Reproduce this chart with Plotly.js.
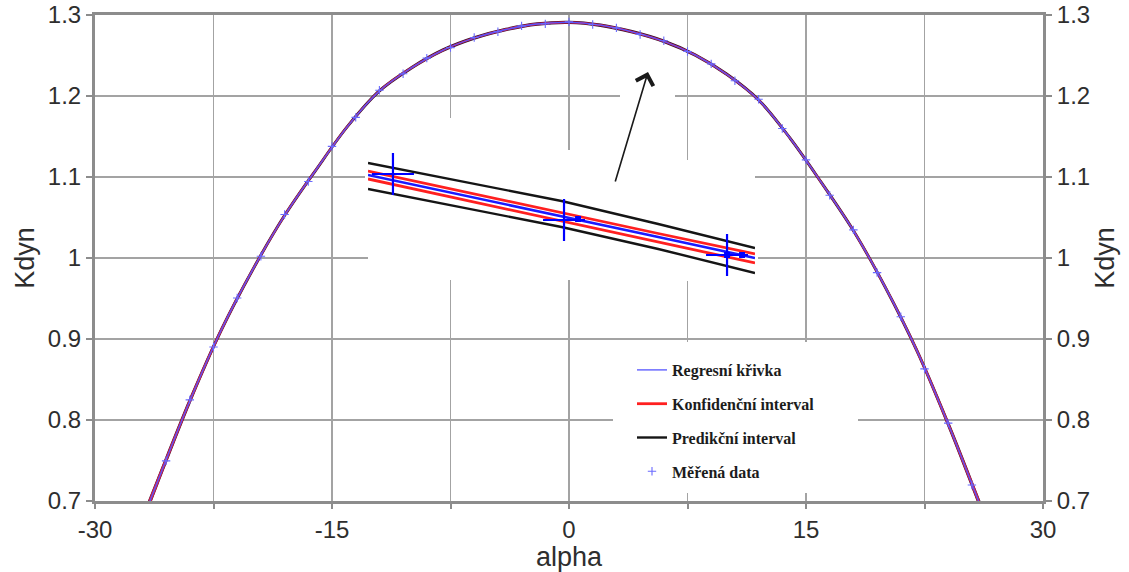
<!DOCTYPE html>
<html>
<head>
<meta charset="utf-8">
<script src="https://cdn.plot.ly/plotly-3.0.1.min.js"></script>
<style>
  html, body { margin: 0; padding: 0; background: #ffffff; }
  #chart { width: 1129px; height: 572px; }
</style>
</head>
<body>
<div id="chart"></div>
<script>
// ---------- main curve ----------
const regAlpha = [-26.8, -26, -24, -22, -20, -18, -16, -14, -12, -10, -8, -6, -4, -2, 0,
                  2, 4, 6, 8, 10, 12, 14, 16, 18, 20, 22, 24, 26, 26.5];
const regKdyn  = [0.686, 0.726, 0.8235, 0.9114, 0.9862, 1.0525, 1.1092, 1.1629, 1.2063, 1.2344,
                  1.2564, 1.2716, 1.2821, 1.2889, 1.2909, 1.2874, 1.2793, 1.2676, 1.2505, 1.2266,
                  1.1951, 1.1477, 1.0924, 1.0338, 0.9646, 0.8865, 0.7951, 0.696, 0.671];
const confHalf = [0.0032, 0.0027, 0.0019, 0.0014, 0.0010, 0.0008, 0.0007, 0.0006, 0.0005, 0.0005,
                  0.0005, 0.0005, 0.0005, 0.0005, 0.0005, 0.0005, 0.0005, 0.0005, 0.0005, 0.0005,
                  0.0005, 0.0006, 0.0007, 0.0008, 0.0010, 0.0014, 0.0019, 0.0027, 0.0032];
const predHalf = [0.0040, 0.0034, 0.0026, 0.0021, 0.0017, 0.0015, 0.0014, 0.0013, 0.0012, 0.0012,
                  0.0012, 0.0011, 0.0011, 0.0011, 0.0011, 0.0011, 0.0011, 0.0011, 0.0012, 0.0012,
                  0.0012, 0.0013, 0.0014, 0.0015, 0.0017, 0.0021, 0.0026, 0.0034, 0.0040];

const measAlpha = [-25.5, -24, -22.5, -21, -19.5, -18, -16.5, -15, -13.5, -12, -10.5, -9, -7.5, -6,
                   -4.5, -3, -1.5, 0, 1.5, 3, 4.5, 6, 7.5, 9, 10.5, 12, 13.5, 15, 16.5, 18, 19.5,
                   21, 22.5, 24, 25.5];
const measKdyn  = [0.7495, 0.8248, 0.8902, 0.9507, 1.0021, 1.0537, 1.0945, 1.1378, 1.1736, 1.2071,
                   1.2274, 1.2468, 1.2597, 1.2723, 1.2793, 1.2866, 1.2890, 1.2915, 1.2882, 1.2841,
                   1.2760, 1.2683, 1.2549, 1.2397, 1.2188, 1.1960, 1.1598, 1.1211, 1.0774, 1.0347,
                   0.9820, 0.9275, 0.8631, 0.7962, 0.7198];

// ---------- magnified inset ----------
const insetAlpha   = [3, 4, 5, 6, 7];
const insetReg     = [1.2860, 1.2796, 1.2730, 1.2666, 1.2600];
const insetConfHi  = [1.28725, 1.28067, 1.27410, 1.26767, 1.26125];
const insetConfLo  = [1.28475, 1.27817, 1.27159, 1.26517, 1.25843];
const insetPredHi  = [1.28976, 1.28381, 1.27785, 1.27065, 1.26313];
const insetPredLo  = [1.28161, 1.27566, 1.26971, 1.26282, 1.25530];
const insetMeasAlpha = [3.258, 5.026, 6.711];
const insetMeasKdyn  = [1.28631, 1.27190, 1.26094];
const insetDotAlpha  = [5.171, 6.711, 6.866];
const insetDotKdyn   = [1.27222, 1.26094, 1.26094];

// ---------- ticks / labels ----------
const xTickVals = [-30, -22.5, -15, -7.5, 0, 7.5, 15, 22.5, 30];
const xTickText = ['-30', '', '-15', '', '0', '', '15', '', '30'];
const yTickVals = [0.7, 0.8, 0.9, 1.0, 1.1, 1.2, 1.3];
const yTickText = ['0.7', '0.8', '0.9', '1', '1.1', '1.2', '1.3'];
const legendNames = ['Regresní křivka', 'Konfidenční interval', 'Predikční interval', 'Měřená data'];

const arrowTip  = [5.0, 1.2296];
const arrowTail = [2.9, 1.0926];

// ---------- geometry helpers (layout only) ----------
const L = 95, R = 1043, T = 15, B = 501;
const pxX = px => -30 + (px - L) * 60 / (R - L);
const pxY = py => 1.3 - (py - T) * 0.6 / (B - T);
const paperX = px => (px - L) / (R - L);
const paperY = py => (B - py) / (B - T);

// white patches where the pasted inset / legend hid the grid
const coverBoxesPx = [
  [440, 462, 118, 242],
  [556, 578, 150, 277],
  [676, 697, 178, 281],
  [365, 688, 171, 184],
  [472, 758, 251, 266],
  [620, 675, 90, 104],
  [613, 858, 342, 493]
];
const shapes = coverBoxesPx.map(b => ({
  type: 'rect', xref: 'x', yref: 'y', layer: 'between',
  x0: pxX(b[0]), x1: pxX(b[1]), y0: pxY(b[3]), y1: pxY(b[2]),
  fillcolor: '#ffffff', line: { width: 0 }
}));

const addArr = (a, h, s) => a.map((v, i) => v + s * h[i]);

const traces = [];
// prediction interval (black)
[1, -1].forEach(s => traces.push({
  x: regAlpha, y: addArr(regKdyn, predHalf, s), type: 'scatter', mode: 'lines',
  line: { color: '#2a1030', width: 1.6, shape: 'spline' }, showlegend: false, hoverinfo: 'skip'
}));
// confidence interval (red)
[1, -1].forEach(s => traces.push({
  x: regAlpha, y: addArr(regKdyn, confHalf, s), type: 'scatter', mode: 'lines',
  line: { color: '#d8204a', width: 1.5, shape: 'spline' }, showlegend: false, hoverinfo: 'skip'
}));
// regression curve (blue)
traces.push({
  x: regAlpha, y: regKdyn, type: 'scatter', mode: 'lines', name: legendNames[0],
  legendgroup: 'g1', legendrank: 1,
  line: { color: '#5555ff', width: 1.3, shape: 'spline' }
});
// measured data
traces.push({
  x: measAlpha, y: measKdyn, type: 'scatter', mode: 'markers', name: legendNames[3],
  legendgroup: 'g4', legendrank: 4,
  marker: { symbol: 'cross-thin', size: 6, color: '#6a6aff', line: { width: 1.1, color: '#6a6aff' } }
});
// right-axis carrier (invisible)
traces.push({
  x: regAlpha, y: regKdyn, yaxis: 'y3', type: 'scatter', mode: 'lines',
  line: { width: 0, color: 'rgba(0,0,0,0)' }, showlegend: false, hoverinfo: 'skip'
});

// inset traces
const insetLine = (y, color, width, extra) => Object.assign({
  x: insetAlpha, y: y, xaxis: 'x2', yaxis: 'y2', type: 'scatter', mode: 'lines',
  line: { color: color, width: width }, showlegend: false, hoverinfo: 'skip'
}, extra || {});
traces.push(insetLine(insetPredHi, '#151515', 2.4, { name: legendNames[2], showlegend: true, legendgroup: 'g3', legendrank: 3 }));
traces.push(insetLine(insetPredLo, '#151515', 2.4));
traces.push(insetLine(insetConfHi, '#ff2020', 2.8, { name: legendNames[1], showlegend: true, legendgroup: 'g2', legendrank: 2 }));
traces.push(insetLine(insetConfLo, '#ff2020', 2.8));
traces.push(insetLine(insetReg, '#1a1aff', 2.6));
traces.push({
  x: insetMeasAlpha, y: insetMeasKdyn, xaxis: 'x2', yaxis: 'y2', type: 'scatter', mode: 'markers',
  marker: { symbol: 'cross-thin', size: 30, color: '#0000ff', line: { width: 2.2, color: '#0000ff' } },
  cliponaxis: false, showlegend: false, hoverinfo: 'skip'
});
traces.push({
  x: insetDotAlpha, y: insetDotKdyn, xaxis: 'x2', yaxis: 'y2', type: 'scatter', mode: 'markers',
  marker: { symbol: 'square', size: 6, color: '#0000ff' },
  cliponaxis: false, showlegend: false, hoverinfo: 'skip'
});

const tickFont = { family: 'Liberation Sans, Arial, sans-serif', size: 24, color: '#2e2e2e' };
const titleFont = { family: 'Liberation Sans, Arial, sans-serif', size: 27, color: '#2e2e2e' };
const gridColor = '#a3a3a3';
const lineColor = '#8c8c8c';

const layout = {
  width: 1129, height: 572,
  margin: { l: L, r: 1129 - R, t: T, b: 572 - B, pad: 0 },
  paper_bgcolor: '#ffffff', plot_bgcolor: '#ffffff',
  showlegend: true,
  legend: {
    x: paperX(632), y: paperY(353), xanchor: 'left', yanchor: 'top',
    bgcolor: 'rgba(255,255,255,0)', borderwidth: 0,
    traceorder: 'grouped', tracegroupgap: 10,
    font: { family: 'Liberation Serif, DejaVu Serif, serif', size: 16, color: '#1c1c1c', weight: 'bold' }
  },
  xaxis: {
    range: [-30, 30], tickvals: xTickVals, ticktext: xTickText,
    showgrid: true, gridcolor: gridColor, gridwidth: 1.6, zeroline: false,
    showline: true, linecolor: lineColor, linewidth: 3, mirror: true,
    ticks: 'outside', ticklen: 5, tickwidth: 2, tickcolor: lineColor,
    tickfont: tickFont,
    title: { text: 'alpha', font: titleFont, standoff: 6 }
  },
  yaxis: {
    range: [0.7, 1.3], tickvals: yTickVals, ticktext: yTickText,
    showgrid: true, gridcolor: gridColor, gridwidth: 1.6, zeroline: false,
    showline: true, linecolor: lineColor, linewidth: 3,
    ticks: 'outside', ticklen: 6, tickwidth: 2, tickcolor: lineColor,
    tickfont: tickFont,
    title: { text: 'Kdyn', font: titleFont, standoff: 6 }
  },
  yaxis3: {
    overlaying: 'y', side: 'right', anchor: 'x',
    range: [0.7, 1.3], tickvals: yTickVals, ticktext: yTickText,
    showgrid: false, zeroline: false,
    showline: true, linecolor: lineColor, linewidth: 3,
    ticks: 'outside', ticklen: 6, tickwidth: 2, tickcolor: lineColor,
    tickfont: tickFont,
    title: { text: 'Kdyn', font: titleFont, standoff: 6 }
  },
  xaxis2: { domain: [paperX(368), paperX(755)], range: [3, 7], anchor: 'y2', visible: false, fixedrange: true },
  yaxis2: { domain: [paperY(280), paperY(160)], range: [1.2531, 1.2907], anchor: 'x2', visible: false, fixedrange: true },
  shapes: shapes,
  annotations: [{
    x: arrowTip[0], y: arrowTip[1], xref: 'x', yref: 'y',
    ax: arrowTail[0], ay: arrowTail[1], axref: 'x', ayref: 'y',
    text: '', showarrow: true, arrowhead: 4, arrowsize: 2.2, arrowwidth: 1.6,
    arrowcolor: '#1a1a1a', standoff: 0, startstandoff: 0
  }]
};

Plotly.newPlot('chart', traces, layout, { displayModeBar: false, staticPlot: true });
</script>
</body>
</html>
